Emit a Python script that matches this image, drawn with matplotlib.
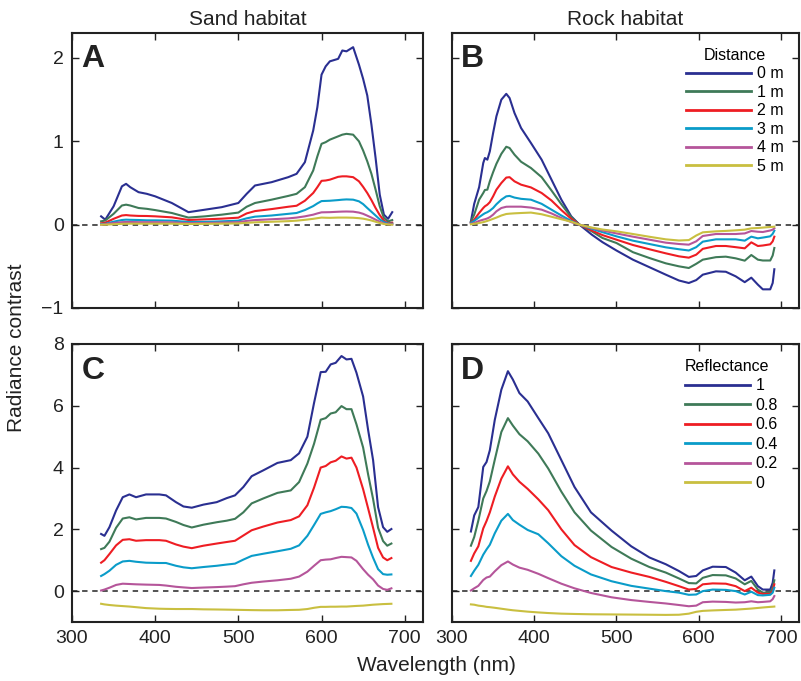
import matplotlib
matplotlib.use("Agg")
import matplotlib.pyplot as plt

plt.rcParams['font.family'] = ['Liberation Sans', 'DejaVu Sans']

# ---------------- data ----------------
series_colors = ['#2a2f91', '#3f7a58', '#ee1d23', '#0a9cc9', '#b5559a', '#c9bf40']
distance_labels = ['0 m', '1 m', '2 m', '3 m', '4 m', '5 m']
reflectance_labels = ['1', '0.8', '0.6', '0.4', '0.2', '0']
x_ticks = [300, 400, 500, 600, 700]
yticks_top = [-1, 0, 1, 2]
yticks_bottom = [0, 2, 4, 6, 8]

# Panel A (sand, distance)
wl_a = [335, 340, 350, 360, 365, 370, 380, 390, 400, 420, 440, 460, 480, 500, 510, 520, 540, 560, 570,
        580, 590, 595, 600, 605, 610, 620, 625, 630, 638, 645, 650, 655, 660, 665, 670, 675, 680, 685]
a_0m = [0.10, 0.06, 0.22, 0.46, 0.49, 0.45, 0.39, 0.37, 0.34, 0.26, 0.15, 0.18, 0.21, 0.26, 0.37, 0.47, 0.51,
        0.57, 0.61, 0.75, 1.13, 1.41, 1.80, 1.90, 1.96, 1.99, 2.09, 2.08, 2.13, 1.92, 1.75, 1.55, 1.20, 0.80,
        0.36, 0.12, 0.07, 0.15]
a_1m = [0.04, 0.05, 0.13, 0.23, 0.24, 0.23, 0.20, 0.19, 0.175, 0.14, 0.085, 0.10, 0.12, 0.145, 0.215, 0.26,
        0.30, 0.345, 0.37, 0.45, 0.65, 0.82, 0.97, 0.99, 1.02, 1.06, 1.08, 1.09, 1.08, 1.00, 0.89, 0.76, 0.61,
        0.42, 0.22, 0.08, 0.04, 0.055]
a_2m = [0.016, 0.024, 0.07, 0.11, 0.115, 0.11, 0.105, 0.104, 0.10, 0.088, 0.056, 0.064, 0.072, 0.084, 0.135,
        0.163, 0.187, 0.215, 0.227, 0.287, 0.38, 0.45, 0.526, 0.53, 0.54, 0.574, 0.58, 0.58, 0.57, 0.52, 0.454,
        0.38, 0.295, 0.20, 0.115, 0.048, 0.016, 0.024]
a_3m = [0.008, 0.01, 0.036, 0.056, 0.06, 0.058, 0.056, 0.052, 0.052, 0.048, 0.032, 0.034, 0.04, 0.048, 0.076,
        0.096, 0.11, 0.13, 0.14, 0.175, 0.223, 0.255, 0.283, 0.285, 0.287, 0.295, 0.30, 0.303, 0.30, 0.28,
        0.247, 0.20, 0.155, 0.11, 0.064, 0.032, 0.012, 0.012]
a_4m = [0.0, 0.005, 0.02, 0.03, 0.032, 0.032, 0.03, 0.03, 0.03, 0.028, 0.018, 0.02, 0.025, 0.03, 0.045, 0.055,
        0.065, 0.075, 0.085, 0.10, 0.12, 0.135, 0.148, 0.149, 0.15, 0.155, 0.157, 0.158, 0.156, 0.145, 0.13,
        0.108, 0.085, 0.06, 0.035, 0.015, 0.005, 0.005]
a_5m = [0.0, 0.0, 0.005, 0.01, 0.011, 0.012, 0.012, 0.012, 0.012, 0.012, 0.008, 0.01, 0.012, 0.015, 0.022,
        0.028, 0.035, 0.042, 0.048, 0.058, 0.07, 0.078, 0.085, 0.083, 0.082, 0.085, 0.085, 0.085, 0.083, 0.078,
        0.072, 0.062, 0.05, 0.035, 0.02, 0.008, 0.002, 0.0]

# Panel B (rock, distance)
wl_b = [323, 327, 333, 338, 340, 343, 346, 350, 354, 360, 366, 370, 376, 384, 396, 409, 421, 433, 445, 455,
        470, 483, 500, 520, 540, 560, 576, 588, 597, 605, 621, 633, 645, 656, 664, 672, 678, 687, 690, 692]
b_0m = [0.04, 0.25, 0.45, 0.74, 0.80, 0.78, 0.88, 1.10, 1.30, 1.50, 1.57, 1.52, 1.34, 1.16, 0.98, 0.78, 0.54,
        0.30, 0.10, 0.0, -0.12, -0.21, -0.31, -0.42, -0.51, -0.60, -0.67, -0.70, -0.665, -0.60, -0.56, -0.565,
        -0.62, -0.69, -0.636, -0.72, -0.776, -0.776, -0.70, -0.535]
b_1m = [0.036, 0.12, 0.30, 0.38, 0.416, 0.42, 0.52, 0.63, 0.73, 0.85, 0.935, 0.92, 0.84, 0.755, 0.68, 0.57,
        0.41, 0.245, 0.09, 0.0, -0.08, -0.16, -0.22, -0.33, -0.40, -0.464, -0.50, -0.52, -0.47, -0.42, -0.39,
        -0.384, -0.404, -0.432, -0.364, -0.42, -0.43, -0.43, -0.37, -0.28]
b_2m = [0.024, 0.06, 0.14, 0.20, 0.22, 0.24, 0.27, 0.34, 0.42, 0.50, 0.565, 0.57, 0.52, 0.48, 0.447, 0.38,
        0.29, 0.175, 0.07, 0.0, -0.07, -0.125, -0.18, -0.244, -0.295, -0.344, -0.38, -0.396, -0.36, -0.29,
        -0.256, -0.256, -0.27, -0.284, -0.212, -0.256, -0.25, -0.236, -0.20, -0.144]
b_3m = [0.02, 0.045, 0.09, 0.125, 0.137, 0.15, 0.168, 0.20, 0.245, 0.30, 0.34, 0.345, 0.325, 0.31, 0.30, 0.25,
        0.18, 0.11, 0.045, 0.0, -0.05, -0.09, -0.14, -0.192, -0.232, -0.272, -0.295, -0.31, -0.27, -0.204,
        -0.176, -0.176, -0.176, -0.192, -0.144, -0.164, -0.155, -0.14, -0.11, -0.072]
b_4m = [0.01, 0.02, 0.045, 0.06, 0.065, 0.075, 0.09, 0.12, 0.16, 0.20, 0.215, 0.216, 0.216, 0.216, 0.205, 0.18,
        0.135, 0.08, 0.03, 0.0, -0.04, -0.07, -0.105, -0.144, -0.18, -0.216, -0.232, -0.24, -0.20, -0.136,
        -0.112, -0.112, -0.112, -0.105, -0.076, -0.085, -0.088, -0.07, -0.06, -0.044]
b_5m = [0.005, 0.01, 0.02, 0.03, 0.036, 0.045, 0.055, 0.07, 0.085, 0.11, 0.128, 0.132, 0.136, 0.14, 0.145,
        0.125, 0.095, 0.065, 0.036, 0.0, -0.035, -0.058, -0.08, -0.112, -0.145, -0.176, -0.19, -0.185, -0.13,
        -0.092, -0.08, -0.075, -0.068, -0.06, -0.044, -0.04, -0.035, -0.028, -0.026, -0.024]

# Panel C (sand, reflectance)
wl_c = [335, 339, 345, 353, 361, 369, 377, 389, 405, 413, 425, 434, 444, 458, 474, 486, 496, 506, 516, 530,
        547, 563, 573, 583, 591, 599, 605, 611, 617, 624, 630, 636, 642, 650, 656, 662, 668, 674, 679, 684]
c_r10 = [1.85, 1.79, 2.07, 2.61, 3.04, 3.13, 3.04, 3.13, 3.13, 3.10, 2.88, 2.74, 2.70, 2.80, 2.88, 3.01, 3.10,
         3.37, 3.72, 3.91, 4.15, 4.24, 4.46, 5.00, 6.09, 7.09, 7.10, 7.34, 7.39, 7.61, 7.50, 7.52, 7.07, 6.30,
         5.22, 4.24, 2.72, 2.07, 1.92, 2.01]
c_r08 = [1.36, 1.40, 1.60, 2.05, 2.35, 2.39, 2.32, 2.37, 2.37, 2.35, 2.24, 2.14, 2.06, 2.15, 2.23, 2.28, 2.34,
         2.55, 2.84, 3.00, 3.18, 3.26, 3.53, 4.13, 4.77, 5.55, 5.60, 5.75, 5.79, 5.99, 5.89, 5.89, 5.40, 4.65,
         3.78, 2.98, 2.05, 1.62, 1.47, 1.54]
c_r06 = [0.92, 1.00, 1.20, 1.48, 1.66, 1.68, 1.63, 1.65, 1.65, 1.63, 1.51, 1.44, 1.39, 1.47, 1.54, 1.59, 1.63,
         1.80, 1.97, 2.09, 2.22, 2.30, 2.42, 2.78, 3.35, 4.00, 4.05, 4.17, 4.22, 4.36, 4.29, 4.32, 4.00, 3.30,
         2.68, 2.05, 1.40, 1.09, 1.00, 1.07]
c_r04 = [0.49, 0.55, 0.66, 0.85, 0.96, 0.98, 0.95, 0.92, 0.91, 0.91, 0.82, 0.77, 0.74, 0.78, 0.82, 0.86, 0.89,
         1.02, 1.14, 1.21, 1.29, 1.37, 1.48, 1.79, 2.14, 2.50, 2.55, 2.59, 2.65, 2.73, 2.72, 2.69, 2.51, 1.98,
         1.50, 1.08, 0.71, 0.55, 0.53, 0.54]
c_r02 = [0.02, 0.05, 0.11, 0.20, 0.24, 0.23, 0.22, 0.21, 0.20, 0.18, 0.14, 0.12, 0.10, 0.115, 0.13, 0.145, 0.16,
         0.22, 0.27, 0.31, 0.35, 0.40, 0.47, 0.63, 0.82, 1.00, 1.02, 1.03, 1.07, 1.11, 1.10, 1.09, 0.98, 0.71,
         0.53, 0.38, 0.18, 0.07, 0.04, 0.09]
c_r00 = [-0.41, -0.43, -0.45, -0.47, -0.485, -0.50, -0.52, -0.55, -0.57, -0.575, -0.58, -0.58, -0.58, -0.59,
         -0.595, -0.60, -0.605, -0.61, -0.615, -0.62, -0.62, -0.61, -0.605, -0.58, -0.54, -0.51, -0.51, -0.505,
         -0.505, -0.50, -0.50, -0.49, -0.48, -0.47, -0.455, -0.44, -0.43, -0.42, -0.415, -0.41]

# Panel D (rock, reflectance)
wl_d = [323, 327, 332, 338, 342, 346, 352, 360, 368, 374, 382, 392, 405, 417, 433, 449, 469, 494, 518, 540,
        560, 576, 588, 597, 605, 617, 633, 645, 656, 664, 672, 678, 687, 690, 692]
d_r10 = [1.93, 2.45, 2.72, 4.02, 4.18, 4.56, 5.54, 6.52, 7.12, 6.85, 6.41, 6.14, 5.60, 5.11, 4.24, 3.37, 2.55,
         1.96, 1.45, 1.09, 0.87, 0.65, 0.46, 0.49, 0.67, 0.79, 0.78, 0.60, 0.35, 0.47, 0.16, 0.05, 0.05, 0.27,
         0.67]
d_r08 = [1.47, 1.75, 2.28, 3.00, 3.24, 3.55, 4.25, 5.15, 5.60, 5.36, 5.08, 4.85, 4.45, 3.97, 3.22, 2.55, 1.96,
         1.43, 1.05, 0.78, 0.60, 0.41, 0.26, 0.25, 0.43, 0.52, 0.51, 0.41, 0.22, 0.33, 0.05, -0.05, -0.05, 0.11,
         0.35]
d_r06 = [0.98, 1.22, 1.45, 2.03, 2.27, 2.55, 3.06, 3.64, 4.04, 3.78, 3.54, 3.31, 2.97, 2.62, 2.00, 1.49, 1.10,
         0.78, 0.60, 0.46, 0.30, 0.16, 0.05, 0.07, 0.22, 0.25, 0.24, 0.16, 0.0, 0.11, -0.05, -0.09, -0.09, 0.0,
         0.22]
d_r04 = [0.49, 0.66, 0.85, 1.18, 1.35, 1.50, 1.87, 2.28, 2.50, 2.30, 2.15, 1.98, 1.84, 1.55, 1.13, 0.82, 0.54,
         0.32, 0.17, 0.08, 0.0, -0.05, -0.12, -0.11, 0.0, 0.05, 0.04, 0.0, -0.11, -0.02, -0.13, -0.14, -0.12,
         -0.05, 0.11]
d_r02 = [0.02, 0.09, 0.17, 0.36, 0.44, 0.47, 0.64, 0.84, 0.96, 0.86, 0.76, 0.69, 0.56, 0.42, 0.24, 0.09, -0.06,
         -0.20, -0.29, -0.35, -0.40, -0.45, -0.49, -0.47, -0.36, -0.34, -0.35, -0.37, -0.36, -0.33, -0.36, -0.35,
         -0.33, -0.26, -0.16]
d_r00 = [-0.43, -0.44, -0.47, -0.49, -0.51, -0.52, -0.54, -0.57, -0.60, -0.62, -0.64, -0.665, -0.69, -0.71,
         -0.73, -0.74, -0.75, -0.755, -0.76, -0.765, -0.77, -0.765, -0.73, -0.67, -0.64, -0.625, -0.61, -0.60,
         -0.58, -0.565, -0.545, -0.53, -0.51, -0.505, -0.50]

# ---------------- figure ----------------
fig = plt.figure(figsize=(8.01, 6.81), dpi=100)

W, H = 801, 681
def box(l, t, r, b):
    return [l / W, 1 - b / H, (r - l) / W, (b - t) / H]

axA = fig.add_axes(box(72, 33, 423, 308))
axB = fig.add_axes(box(452, 33, 799, 308))
axC = fig.add_axes(box(72, 344, 423, 622))
axD = fig.add_axes(box(452, 344, 799, 622))

panels = [
    (axA, wl_a, [a_0m, a_1m, a_2m, a_3m, a_4m, a_5m], 'A', (-1, 2.3), yticks_top, distance_labels),
    (axB, wl_b, [b_0m, b_1m, b_2m, b_3m, b_4m, b_5m], 'B', (-1, 2.3), yticks_top, distance_labels),
    (axC, wl_c, [c_r10, c_r08, c_r06, c_r04, c_r02, c_r00], 'C', (-1, 8), yticks_bottom, reflectance_labels),
    (axD, wl_d, [d_r10, d_r08, d_r06, d_r04, d_r02, d_r00], 'D', (-1, 8), yticks_bottom, reflectance_labels),
]

for ax, wl, ys, letter, ylim, yt, labels in panels:
    ax.axhline(0, color='#444444', lw=1.3, ls=(0, (3.0, 2.6)), zorder=1)
    for y, c, lab in zip(ys, series_colors, labels):
        ax.plot(wl, y, color=c, lw=1.5, label=lab, zorder=2)
    ax.set_xlim(300, 722)
    ax.set_ylim(*ylim)
    ax.set_xticks(x_ticks)
    ax.set_yticks(yt)
    ax.tick_params(direction='in', top=True, right=True, length=5, width=1.0,
                   labelsize=14, pad=6, colors='#222222')
    for s in ax.spines.values():
        s.set_linewidth(1.5)
        s.set_color('#222222')
    ax.text(0.027, 0.875, letter, transform=ax.transAxes, fontsize=23, fontweight='bold',
            ha='left', va='baseline', color='#222222')

for ax in (axA, axB):
    ax.tick_params(labelbottom=False)
for ax in (axB, axD):
    ax.tick_params(labelleft=False)

legB = axB.legend(title='Distance', loc='upper left', bbox_to_anchor=(0.652, 0.975), frameon=False,
                  fontsize=11.5, title_fontsize=11.5, handlelength=4.05, handletextpad=0.38,
                  labelspacing=0.22, borderpad=0, alignment='center')
legD = axD.legend(title='Reflectance', loc='upper left', bbox_to_anchor=(0.648, 0.975), frameon=False,
                  fontsize=11.5, title_fontsize=11.5, handlelength=4.05, handletextpad=0.38,
                  labelspacing=0.28, borderpad=0, alignment='left')
for leg in (legB, legD):
    for h in leg.get_lines():
        h.set_linewidth(2.0)

axA.set_title('Sand habitat', fontsize=15, pad=6, color='#222222')
axB.set_title('Rock habitat', fontsize=15, pad=6, color='#222222')
fig.text(0.02, 0.49, 'Radiance contrast', rotation=90, ha='center', va='center', fontsize=15, color='#222222')
fig.text(0.545, 0.023, 'Wavelength (nm)', ha='center', va='center', fontsize=15, color='#222222')

fig.savefig('out.png', dpi=100)
